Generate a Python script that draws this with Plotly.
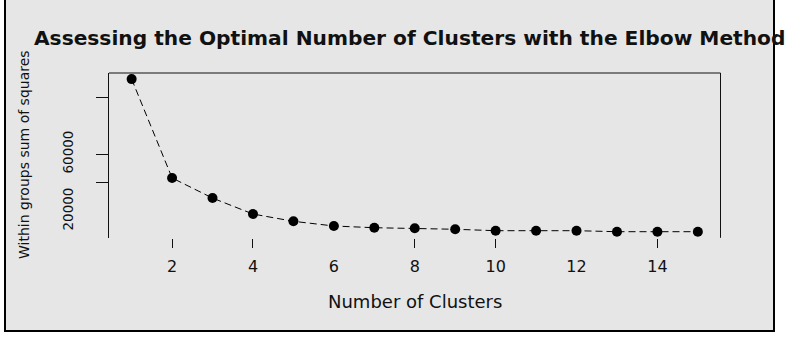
import plotly.graph_objects as go

# ---- data ----
clusters = list(range(1, 16))
wss = [112600, 43200, 29100, 17900, 12800, 9500, 8300, 7900,
       7200, 6200, 6200, 6200, 5500, 5500, 5500]
x_tick_vals = [2, 4, 6, 8, 10, 12, 14]
x_tick_marks = [2, 4, 8, 10, 14]
y_label_vals = [20000, 60000]
y_tick_marks = [40000, 60000, 100000]

title_text = "Assessing the Optimal Number of Clusters with the Elbow Method"
x_title = "Number of Clusters"
y_title = "Within groups sum of squares"

W, H = 785, 338
# R-style ranges: data range padded by 4%
xmin, xmax = min(clusters), max(clusters)
xpad = (xmax - xmin) * 0.04
ymin, ymax = min(wss), max(wss)
ypad = (ymax - ymin) * 0.04
xr = [xmin - xpad, xmax + xpad]
yr = [ymin - ypad, ymax + ypad]

xdom = [109 / W, 720.5 / W]
ydom = [1 - 237.8 / H, 1 - 73 / H]

FONT = "DejaVu Sans, Arial, sans-serif"
GRAY = "#e6e6e6"

fig = go.Figure()
fig.add_trace(go.Scatter(
    x=clusters, y=wss, mode="lines+markers",
    line=dict(color="black", width=1, dash="7px,4px"),
    marker=dict(color="black", size=10),
    cliponaxis=False, showlegend=False, hoverinfo="skip",
))
# same data on the overlay axes that carry the tick marks (invisible)
fig.add_trace(go.Scatter(
    x=clusters, y=wss, mode="markers", xaxis="x2", yaxis="y2",
    marker=dict(color="rgba(0,0,0,0)", size=1),
    showlegend=False, hoverinfo="skip",
))

fig.update_layout(
    width=W, height=H,
    margin=dict(l=0, r=0, t=0, b=0),
    paper_bgcolor="white",
    plot_bgcolor="rgba(0,0,0,0)",
    showlegend=False,
    title=dict(text="<b>" + title_text + "</b>", x=34 / W, xanchor="left",
               xref="paper", yref="container", y=1 - 38 / H, yanchor="middle",
               font=dict(family=FONT, size=20.2, color="#111111")),
    xaxis=dict(domain=xdom, range=xr, showgrid=False, zeroline=False,
               showline=False, tickmode="array", tickvals=x_tick_vals,
               ticks="outside", ticklen=9, tickcolor="rgba(0,0,0,0)",
               ticklabelstandoff=5,
               tickfont=dict(family=FONT, size=16, color="#111111"),
               automargin=False, fixedrange=True),
    yaxis=dict(domain=ydom, range=yr, showgrid=False, zeroline=False,
               showline=True, linecolor="#111111", linewidth=1,
               tickmode="array", tickvals=y_label_vals,
               ticktext=[str(v) for v in y_label_vals],
               ticks="outside", ticklen=12, tickcolor="rgba(0,0,0,0)",
               tickangle=-90, ticklabelstandoff=18,
               tickfont=dict(family=FONT, size=13.5, color="#111111"),
               automargin=False, fixedrange=True),
    xaxis2=dict(overlaying="x", anchor="y2", domain=xdom, range=xr,
                showgrid=False, zeroline=False, showline=False,
                tickmode="array", tickvals=x_tick_marks, showticklabels=False,
                ticks="outside", ticklen=9, tickwidth=1, tickcolor="#111111",
                side="bottom", automargin=False, fixedrange=True),
    yaxis2=dict(overlaying="y", anchor="x2", domain=ydom, range=yr,
                showgrid=False, zeroline=False, showline=False,
                tickmode="array", tickvals=y_tick_marks, showticklabels=False,
                ticks="outside", ticklen=12, tickwidth=1, tickcolor="#111111",
                side="left", automargin=False, fixedrange=True),
    annotations=[
        dict(text=x_title, xref="paper", yref="paper",
             x=(xdom[0] + xdom[1]) / 2, y=1 - 301 / H,
             xanchor="center", yanchor="middle", showarrow=False,
             font=dict(family=FONT, size=18, color="#111111")),
        dict(text=y_title, xref="paper", yref="paper",
             x=24 / W, y=1 - 155 / H, textangle=-90,
             xanchor="center", yanchor="middle", showarrow=False,
             font=dict(family=FONT, size=14, color="#111111")),
    ],
    shapes=[
        # outer frame with gray background
        dict(type="rect", xref="paper", yref="paper", layer="below",
             x0=5 / W, x1=774 / W, y0=1 - 331 / H, y1=1.05,
             fillcolor=GRAY, line=dict(color="black", width=2)),
        # plot box: top and right edges
        dict(type="line", xref="x domain", yref="y domain",
             x0=0, x1=1, y0=1, y1=1, line=dict(color="#111111", width=1)),
        dict(type="line", xref="x domain", yref="y domain",
             x0=1, x1=1, y0=0, y1=1, line=dict(color="#111111", width=1)),
    ],
)

fig.write_html("out.html")
